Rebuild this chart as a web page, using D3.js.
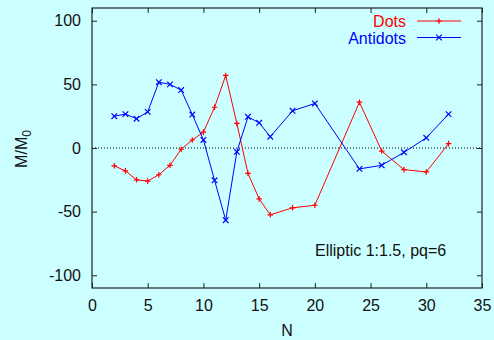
<!DOCTYPE html>
<html>
<head>
<meta charset="utf-8">
<script src="https://cdn.jsdelivr.net/npm/d3@7"></script>
<style>
  html, body { margin: 0; padding: 0; background: #ccffff; }
  svg { display: block; }
  text { font-family: "Liberation Sans", Arial, sans-serif; }
</style>
</head>
<body>
<script>
// Magnetization M/M0 versus particle count N
const dotsN    = [2, 3, 4, 5, 6, 7, 8, 9, 10, 11, 12, 13, 14, 15, 16, 18, 20, 24, 26, 28, 30, 32];
const dotsM    = [-14, -18, -25, -26, -21, -13.6, -1, 6.3, 12.5, 32, 57, 19.3, -20, -40, -52.5, -47, -45, 36, -2.4, -17, -18.8, 3.4];
const antiN    = [2, 3, 4, 5, 6, 7, 8, 9, 10, 11, 12, 13, 14, 15, 16, 18, 20, 24, 26, 28, 30, 32];
const antiM    = [25, 26.6, 23, 28.4, 51.7, 50, 45.5, 26.3, 6.3, -25.4, -56.7, -3, 24.5, 19.8, 8.9, 29.2, 35, -16.4, -13.6, -3.4, 8, 26.6];
const xTicks   = [0, 5, 10, 15, 20, 25, 30, 35];
const yTicks   = [-100, -50, 0, 50, 100];
const seriesNames = ["Dots", "Antidots"];
const annotation  = "Elliptic 1:1.5, pq=6";

const W = 494, H = 340;
const mLeft = 92, mRight = 482, mTop = 8, mBottom = 288;

const svg = d3.select("body").append("svg").attr("width", W).attr("height", H);
svg.append("rect").attr("width", W).attr("height", H).attr("fill", "#ccffff");

const x = d3.scaleLinear().domain([0, 35]).range([mLeft, mRight]);
const y = d3.scaleLinear().domain([-110, 110]).range([mBottom, mTop]);

const fontSize = 16;
const tickLen = 5;
const frameColor = "#222";
// integer labels with a plain hyphen for negatives
const intFmt = d => String(Math.round(d));

// zero reference line
svg.append("line")
  .attr("x1", mLeft).attr("x2", mRight)
  .attr("y1", y(0)).attr("y2", y(0))
  .attr("stroke", "#000").attr("stroke-width", 1)
  .attr("stroke-dasharray", "1,2");

// axes with inward ticks, mirrored on top and right
const axB = d3.axisBottom(x).tickValues(xTicks).tickSize(-tickLen).tickPadding(12).tickFormat(intFmt);
const axT = d3.axisTop(x).tickValues(xTicks).tickSize(-tickLen).tickFormat("");
const axL = d3.axisLeft(y).tickValues(yTicks).tickSize(-tickLen).tickPadding(11).tickFormat(intFmt);
const axR = d3.axisRight(y).tickValues(yTicks).tickSize(-tickLen).tickFormat("");

function styleAxis(g) {
  g.select(".domain").remove();
  g.selectAll(".tick line").attr("stroke", frameColor);
  g.selectAll(".tick text").attr("fill", "#111").style("font-size", fontSize + "px")
    .style("font-family", "'Liberation Sans', Arial, sans-serif");
}
svg.append("g").attr("transform", `translate(0,${mBottom})`).call(axB).call(styleAxis);
svg.append("g").attr("transform", `translate(0,${mTop})`).call(axT).call(styleAxis);
svg.append("g").attr("transform", `translate(${mLeft},0)`).call(axL).call(styleAxis);
svg.append("g").attr("transform", `translate(${mRight},0)`).call(axR).call(styleAxis);

// plot frame
svg.append("rect")
  .attr("x", mLeft).attr("y", mTop)
  .attr("width", mRight - mLeft).attr("height", mBottom - mTop)
  .attr("fill", "none").attr("stroke", frameColor).attr("stroke-width", 1.2);

const line = d3.line().x(d => x(d[0])).y(d => y(d[1]));

const series = [
  { name: seriesNames[0], color: "#ff0000", marker: "plus", pts: d3.zip(dotsN, dotsM) },
  { name: seriesNames[1], color: "#0000ff", marker: "cross", pts: d3.zip(antiN, antiM) }
];

function drawMarker(g, cx, cy, type, color) {
  const s = 2.8;
  const d = type === "plus"
    ? `M${cx - s},${cy}H${cx + s}M${cx},${cy - s}V${cy + s}`
    : `M${cx - s},${cy - s}L${cx + s},${cy + s}M${cx - s},${cy + s}L${cx + s},${cy - s}`;
  g.append("path").attr("d", d)
    .attr("stroke", color).attr("stroke-width", 1.2).attr("fill", "none");
}

series.forEach(s => {
  const g = svg.append("g");
  g.append("path").datum(s.pts).attr("d", line)
    .attr("fill", "none").attr("stroke", s.color).attr("stroke-width", 1);
  s.pts.forEach(p => drawMarker(g, x(p[0]), y(p[1]), s.marker, s.color));
});

// legend
const legX0 = 417, legX1 = 461, legTextX = 406;
series.forEach((s, i) => {
  const ly = 21 + i * 16.5;
  svg.append("text").attr("x", legTextX).attr("y", ly + 6)
    .attr("text-anchor", "end").attr("fill", s.color)
    .style("font-size", fontSize + "px").text(s.name);
  svg.append("line").attr("x1", legX0).attr("x2", legX1).attr("y1", ly).attr("y2", ly)
    .attr("stroke", s.color).attr("stroke-width", 1);
  drawMarker(svg, (legX0 + legX1) / 2, ly, s.marker, s.color);
});

// annotation
svg.append("text").attr("x", 315).attr("y", 256)
  .attr("fill", "#111").style("font-size", fontSize + "px").text(annotation);

// axis titles
svg.append("text").attr("x", (mLeft + mRight) / 2).attr("y", 336)
  .attr("text-anchor", "middle").attr("fill", "#111")
  .style("font-size", fontSize + "px").text("N");

const yl = svg.append("text")
  .attr("transform", `translate(27,149) rotate(-90)`)
  .attr("text-anchor", "middle").attr("fill", "#111")
  .style("font-size", fontSize + "px");
yl.append("tspan").text("M/M");
yl.append("tspan").attr("dy", 4).style("font-size", "12px").text("0");
</script>
</body>
</html>
